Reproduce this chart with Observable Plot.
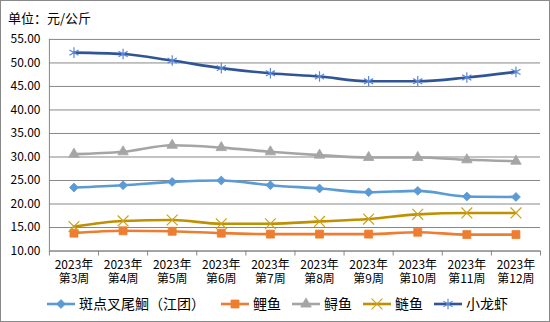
<!DOCTYPE html>
<html><head><meta charset="utf-8">
<script src="https://cdn.jsdelivr.net/npm/d3@7"></script>
<script src="https://cdn.jsdelivr.net/npm/@observablehq/plot@0.6"></script>
<style>
body{margin:0;background:#fff;}
#wrap{position:relative;width:550px;height:322px;box-sizing:border-box;border:1px solid #898989;font-family:"Noto Sans CJK SC",sans-serif;color:#000;overflow:hidden;}
#title{position:absolute;left:7px;top:8px;font-size:13px;line-height:18px;}
#chart{position:absolute;left:-1px;top:-1px;}
#legend{position:absolute;left:46px;top:293px;display:flex;align-items:center;font-size:14px;line-height:19px;white-space:nowrap;}
#legend .item{display:flex;align-items:center;margin-right:11px;}
#legend .item:first-child{margin-right:16px;}
#legend svg{margin-right:4px;}
</style></head>
<body><div id="wrap"><div id="title">单位：元/公斤</div><div id="chart"></div><div id="legend"></div></div>
<script>
const year = "2023年";
const weeks = ["第3周","第4周","第5周","第6周","第7周","第8周","第9周","第10周","第11周","第12周"];
const seriesNames = ["斑点叉尾鮰（江团）","鲤鱼","鲟鱼","鲢鱼","小龙虾"];
const catfish = [23.5, 24.0, 24.7, 25.0, 24.0, 23.3, 22.5, 22.8, 21.6, 21.5];
const carp = [13.8, 14.3, 14.2, 13.8, 13.6, 13.6, 13.6, 14.0, 13.5, 13.5];
const sturgeon = [30.6, 31.1, 32.5, 32.0, 31.1, 30.4, 29.9, 29.9, 29.4, 29.1];
const silverCarp = [15.2, 16.4, 16.6, 15.8, 15.8, 16.3, 16.8, 17.8, 18.1, 18.1];
const crayfish = [52.2, 51.9, 50.5, 48.9, 47.8, 47.1, 46.1, 46.1, 46.9, 48.1];
const yTicks = [10, 15, 20, 25, 30, 35, 40, 45, 50, 55];

const styles = [
  {line:"#5B9BD5", mark:"#5B9BD5", symbol:"diamond2", r:4, filled:true},
  {line:"#ED7D31", mark:"#ED7D31", symbol:"square", r:4.5, filled:true},
  {line:"#A5A5A5", mark:"#A5A5A5", symbol:"triangle", r:3.9, filled:true},
  {line:"#BF9000", mark:"#C9A21A", symbol:"times", r:5, filled:false},
  {line:"#2F5597", mark:"#5B86D6", symbol:"asterisk", r:5, filled:false}
];
const allValues = [catfish, carp, sturgeon, silverCarp, crayfish];

const idx = weeks.map((_, i) => i);
const bounds = d3.range(-0.5, weeks.length, 1);
const grid = "#878787";

const marks = [
  Plot.gridY(yTicks, {stroke: grid, strokeOpacity: 1}),
  Plot.ruleX([-0.5], {stroke: grid}),
  Plot.ruleY([10], {stroke: grid}),
  Plot.axisY(yTicks, {label: null, tickSize: 0, tickPadding: 9, tickFormat: d => d.toFixed(2), fontSize: 12}),
  Plot.axisX(bounds, {label: null, tickSize: 5, stroke: grid, tickFormat: () => ""}),
  Plot.axisX(idx, {label: null, tickSize: 0, tickPadding: 8, fontSize: 12, lineHeight: 1.15, tickFormat: i => year + "\n" + weeks[i]})
];
allValues.forEach((vals, s) => {
  const data = vals.map((v, i) => ({i, v}));
  const st = styles[s];
  marks.push(Plot.line(data, {x: "i", y: "v", stroke: st.line, strokeWidth: 2.6, curve: "monotone-x"}));
  if (st.filled) marks.push(Plot.dot(data, {x: "i", y: "v", symbol: () => st.symbol, r: st.r, fill: st.mark, stroke: st.mark, strokeWidth: 0.8}));
  else marks.push(Plot.dot(data, {x: "i", y: "v", symbol: () => st.symbol, r: st.r, stroke: st.mark, strokeWidth: 1.2, fill: "none"}));
});

const chart = Plot.plot({
  width: 550, height: 322,
  marginLeft: 49, marginRight: 9, marginTop: 39, marginBottom: 71,
  style: {fontFamily: '"Noto Sans CJK SC", sans-serif', fontSize: "12px", color: "#000", background: "transparent"},
  x: {type: "linear", domain: [-0.5, weeks.length - 0.5], axis: null},
  y: {domain: [10, 55], axis: null},
  symbol: {type: "identity"},
  marks
});
document.getElementById("chart").append(chart);

const symMap = {diamond2: d3.symbolDiamond2, square: d3.symbolSquare, triangle: d3.symbolTriangle, times: d3.symbolTimes, asterisk: d3.symbolAsterisk};
const legend = document.getElementById("legend");
seriesNames.forEach((name, s) => {
  const st = styles[s];
  const item = document.createElement("div");
  item.className = "item";
  const path = d3.symbol(symMap[st.symbol], Math.PI * st.r * st.r)();
  item.innerHTML = `<svg width="28" height="14"><line x1="0" x2="28" y1="7" y2="7" stroke="${st.line}" stroke-width="2.6"/>` +
    `<path transform="translate(14,7)" d="${path}" fill="${st.filled ? st.mark : "none"}" stroke="${st.mark}" stroke-width="${st.filled ? 0.8 : 1.2}"/></svg><span>${name}</span>`;
  legend.append(item);
});
</script></body></html>
